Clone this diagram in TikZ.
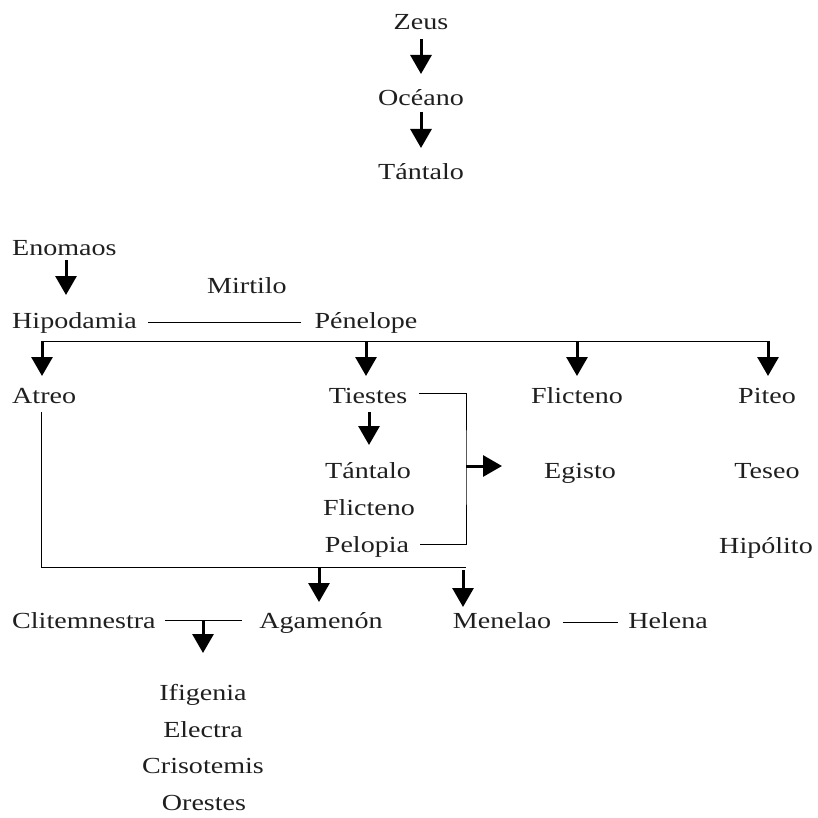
\documentclass[tikz,border=0pt]{standalone}
\usepackage{fontspec}
\setmainfont{Liberation Serif}[FakeStretch=1.22]
\usetikzlibrary{arrows.meta}
\begin{document}
\begin{tikzpicture}[x=1pt,y=-1pt,
  nm/.style={font=\fontsize{23pt}{27pt}\selectfont, inner sep=0pt, anchor=base, text=black!88},
  ln/.style={line width=1pt},
  arr/.style={line width=3pt, -{Triangle[width=21pt,length=19pt]}}]
\useasboundingbox (0,0) rectangle (817,818);
% nodes
\node[nm] (zeus) at (421,30) {Zeus};
\node[nm] (oceano) at (421,106) {Océano};
\node[nm] (tantalo) at (421,180) {Tántalo};
\node[nm,anchor=base west] (enomaos) at (12,255) {Enomaos};
\node[nm] (mirtilo) at (247,293) {Mirtilo};
\node[nm,anchor=base west] (hipodamia) at (12,328) {Hipodamia};
\node[nm] (penelope) at (366,328) {Pénelope};
\node[nm,anchor=base west] (atreo) at (12,403) {Atreo};
\node[nm] (tiestes) at (368,403) {Tiestes};
\node[nm] (flicteno) at (577,403) {Flicteno};
\node[nm] (piteo) at (767,403) {Piteo};
\node[nm] (tantalob) at (368,478) {Tántalo};
\node[nm] (egisto) at (580,478) {Egisto};
\node[nm] (teseo) at (767,478) {Teseo};
\node[nm] (flictenob) at (369,515) {Flicteno};
\node[nm] (pelopia) at (367,552) {Pelopia};
\node[nm] (hipolito) at (766,553) {Hipólito};
\node[nm,anchor=base west] (clitemnestra) at (12,628) {Clitemnestra};
\node[nm] (agamenon) at (321,628) {Agamenón};
\node[nm] (menelao) at (502,628) {Menelao};
\node[nm] (helena) at (668,628) {Helena};
\node[nm] (ifigenia) at (203,700) {Ifigenia};
\node[nm] (electra) at (203,737) {Electra};
\node[nm] (crisotemis) at (203,773) {Crisotemis};
\node[nm] (orestes) at (204,810) {Orestes};
% junction coordinates
\coordinate (jA) at (42,341);
\coordinate (jT) at (366,341);
\coordinate (jF) at (577,341);
\coordinate (jP) at (768,341);
\coordinate (brk) at (466,466);
\coordinate (atrA) at (41,567);
\coordinate (atrB) at (466,567);
\coordinate (jAg) at (319,567);
\coordinate (jMe) at (463,570);
\coordinate (jCl) at (203,620);
% top chain
\draw[arr] ([yshift=-9pt]zeus.base) -- ([yshift=32pt]oceano.base);
\draw[arr] ([yshift=-6pt]oceano.base) -- ([yshift=32pt]tantalo.base);
% Enomaos -> Hipodamia
\draw[arr] (66,260) -- (66,295);
% marriage line
\draw[ln] ([xshift=11pt,yshift=6pt]hipodamia.base east) -- ([xshift=-13pt,yshift=6pt]penelope.base west);
% children line
\draw[ln] (jA) -- (jP);
\draw[arr] (jA) -- ++(0,35);
\draw[arr] (jT) -- ++(0,35);
\draw[arr] (jF) -- ++(0,35);
\draw[arr] (jP) -- ++(0,35);
% Tiestes
\draw[arr] (369,412) -- (369,445);
\draw[ln] ([xshift=12pt,yshift=10pt]tiestes.base east) -| (brk) |- ([xshift=11pt,yshift=8pt]pelopia.base east);
\draw[arr] (brk) -- ++(36,0);
% Atreo
\draw[ln, shorten <=9pt] (atreo.south -| atrA) -- (atrA) -- (atrB);
\draw[arr] (jAg) -- ++(0,35);
\draw[arr] (jMe) -- ++(0,37);
% Clitemnestra - Agamenon
\draw[ln] ([xshift=9pt,yshift=8pt]clitemnestra.base east) -- ([xshift=-17pt,yshift=8pt]agamenon.base west);
\draw[arr] (jCl) -- ++(0,33);
% Menelao - Helena
\draw[ln] ([xshift=12pt,yshift=6pt]menelao.base east) -- ([xshift=-10pt,yshift=6pt]helena.base west);
\end{tikzpicture}
\end{document}
